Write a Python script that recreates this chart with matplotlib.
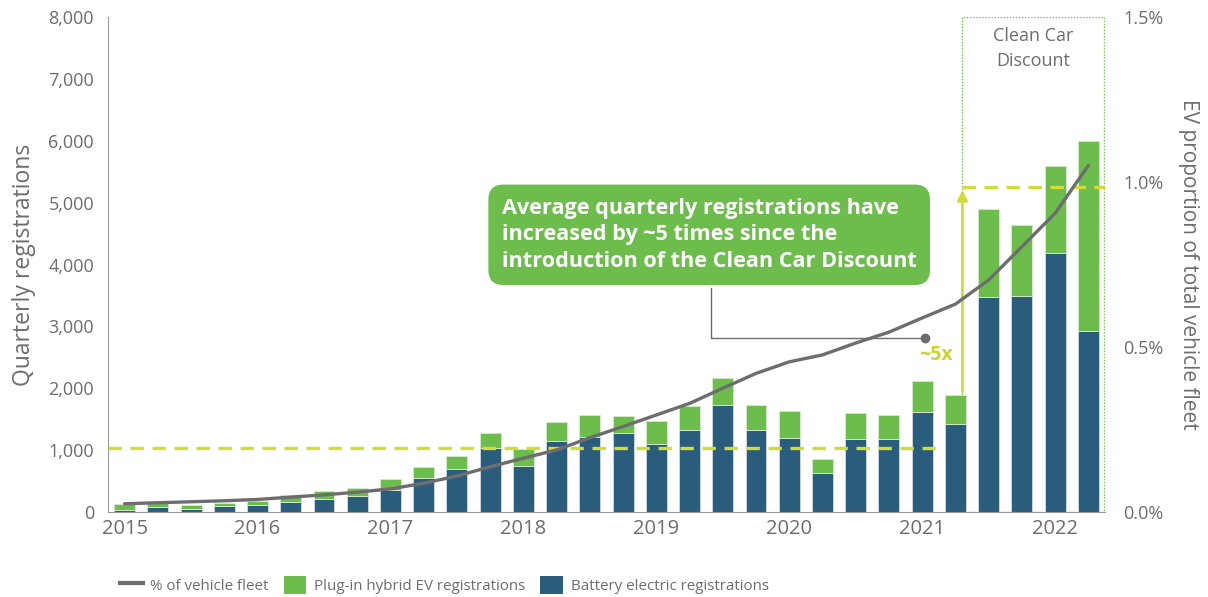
import matplotlib.pyplot as plt
import numpy as np
from matplotlib.lines import Line2D
from matplotlib.patches import Patch, Rectangle

plt.rcParams["font.family"] = ["Open Sans", "DejaVu Sans"]

years = ["2015", "2016", "2017", "2018", "2019", "2020", "2021", "2022"]
totals = [130, 140, 118, 140, 173, 275, 340, 388, 538, 727, 905, 1281,
          1018, 1459, 1562, 1551, 1475, 1712, 2165, 1729, 1637, 851, 1600, 1562,
          2121, 1896, 4890, 4642, 5590, 5998]
bev = [40, 85, 55, 92, 113, 166, 205, 253, 360, 549, 700, 1040,
       748, 1152, 1217, 1281, 1104, 1325, 1729, 1325, 1190, 630, 1180, 1180,
       1621, 1422, 3479, 3490, 4179, 2929]
fleet_pct = [0.025, 0.028, 0.031, 0.034, 0.038, 0.045, 0.052, 0.060, 0.070, 0.087, 0.109, 0.137,
             0.163, 0.188, 0.225, 0.259, 0.294, 0.329, 0.375, 0.420, 0.455, 0.476, 0.512, 0.545,
             0.588, 0.630, 0.703, 0.804, 0.905, 1.050]
avg_before = 1040
avg_after = 5250

GREEN = "#6cbd4c"
BLUE = "#2a5d7c"
GREY = "#6d6d6f"
LIME = "#d2dc38"
TXT = "#6d6d6d"

bev = np.array(bev)
phev = np.array(totals) - bev
x = np.arange(len(totals))

fig = plt.figure(figsize=(12.08, 5.97), dpi=100)
ax = fig.add_axes([0.0894, 0.1424, 0.8253, 0.8291])
ax2 = ax.twinx()
ax.set_zorder(ax2.get_zorder() + 1)
ax.patch.set_visible(False)

ax.bar(x, bev, width=0.63, color=BLUE, edgecolor="#cfdde6", linewidth=0.6, zorder=2)
ax.bar(x, phev, bottom=bev, width=0.63, color=GREEN, edgecolor="#d7ecd0", linewidth=0.6, zorder=2)

# fleet share line belongs to the right axis; plotted through its scale on the left axis for layering
scale = 8000 / 1.5
ax.plot(x, np.array(fleet_pct) * scale, color=GREY, lw=2.4, zorder=4, solid_capstyle="round")

ax.set_xlim(-0.5, 29.5)
ax.set_ylim(0, 8000)
ax2.set_ylim(0, 1.5)
ax.set_yticks(np.arange(0, 8001, 1000))
ax.set_yticklabels([f"{v:,}" for v in range(0, 8001, 1000)])
ax2.set_yticks([0, 0.5, 1.0, 1.5])
ax2.set_yticklabels(["0.0%", "0.5%", "1.0%", "1.5%"])
ax.set_xticks(np.arange(0, 30, 4))
ax.set_xticklabels(years)

for a in (ax, ax2):
    for s in a.spines.values():
        s.set_visible(False)
    a.tick_params(length=0, colors=TXT, labelsize=13)
ax.spines["left"].set_visible(True)
ax.spines["bottom"].set_visible(True)
ax.spines["left"].set_color("#9a9a9a")
ax.spines["bottom"].set_color("#9a9a9a")
ax.tick_params(axis="y", pad=10)
ax.tick_params(axis="x", pad=5, labelsize=14.5)
ax2.tick_params(axis="y", pad=13)

ax.set_ylabel("Quarterly registrations", color=TXT, fontsize=16.5, labelpad=9)
ax2.set_ylabel("EV proportion of total vehicle fleet", color=TXT, fontsize=15,
               rotation=270, labelpad=26)

# averages and ~5x arrow
ax.plot([-0.5, 24.5], [avg_before, avg_before], color=LIME, lw=2.4, ls=(0, (4, 2.6)), zorder=3)
ax.plot([25.21, 29.5], [avg_after, avg_after], color=LIME, lw=2.4, ls=(0, (4, 2.6)), zorder=3)
ax.annotate("", xy=(25.21, avg_after), xytext=(25.21, totals[25]),
            arrowprops=dict(arrowstyle="-|>,head_length=0.6,head_width=0.3", color=LIME, lw=2), zorder=3)
ax.text(24.4, 2530, "~5x", color="#c9d52e", fontsize=14, fontweight="bold", ha="center", va="center")

# Clean Car Discount period
ax.add_patch(Rectangle((25.21, 0), 4.27, 8000, fill=False, edgecolor=GREEN, lw=1, ls=(0, (1, 1.2)), zorder=1))
ax.text(27.35, 7490, "Clean Car\nDiscount", color=TXT, fontsize=13, ha="center", va="center", linespacing=1.5)

# callout
ax.text(11.35, 4480, "Average quarterly registrations have\nincreased by ~5 times since the\nintroduction of the Clean Car Discount",
        color="white", fontsize=15.6, fontweight="bold", ha="left", va="center", linespacing=1.33, zorder=6,
        bbox=dict(boxstyle="round,pad=0.62,rounding_size=0.7", facecolor=GREEN, edgecolor="none"))
ax.plot([17.66, 17.66, 24.07], [3619, 2811, 2811], color=GREY, lw=1, zorder=5)
ax.plot([24.07], [2811], "o", color=GREY, ms=6, zorder=5)

handles = [Line2D([], [], color=GREY, lw=3),
           Patch(facecolor=GREEN), Patch(facecolor=BLUE)]
labels = ["% of vehicle fleet", "Plug-in hybrid EV registrations", "Battery electric registrations"]
fig.legend(handles, labels, loc="lower left", bbox_to_anchor=(0.088, -0.018), ncol=3, frameon=False,
           fontsize=10.9, labelcolor=TXT, handlelength=1.5, handleheight=1.4, handletextpad=0.5,
           columnspacing=1.0)

fig.savefig("out.png", dpi=100)
